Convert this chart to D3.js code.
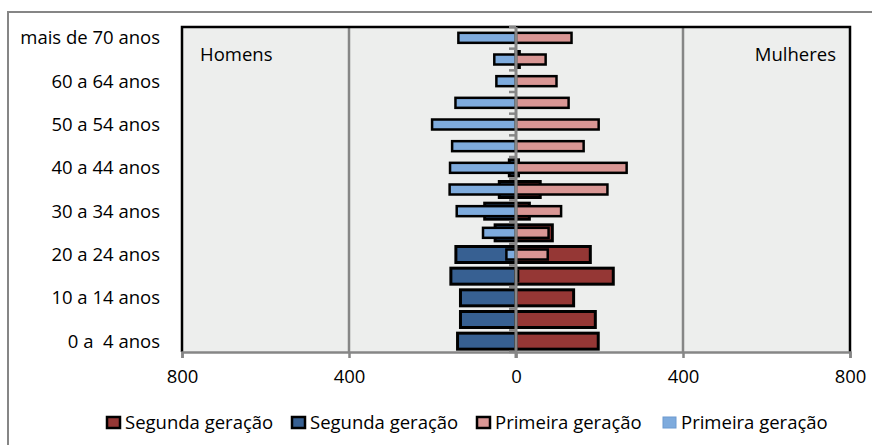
<!DOCTYPE html>
<html><head><meta charset="utf-8">
<script src="https://cdn.jsdelivr.net/npm/d3@7"></script>
<style>
html,body{margin:0;padding:0;background:#fff;}
text{font-family:"Open Sans","Noto Sans",sans-serif;fill:#000;}
</style></head>
<body><svg id="c" width="872" height="445"></svg>
<script>
const categories = ["0 a  4 anos","5 a 9 anos","10 a 14 anos","15 a 19 anos","20 a 24 anos","25 a 29 anos","30 a 34 anos","35 a 39 anos","40 a 44 anos","45 a 49 anos","50 a 54 anos","55 a 59 anos","60 a 64 anos","65 a 69 anos","mais de 70 anos"];
const shownLabels = ["0 a  4 anos","10 a 14 anos","20 a 24 anos","30 a 34 anos","40 a 44 anos","50 a 54 anos","60 a 64 anos","mais de 70 anos"];
// Segunda geração
const segMulheres = [197,190,138,233,178,87,32,58,6,0,0,0,0,8,0];
const segHomens   = [140,133,133,156,144,50,75,40,16,0,0,0,0,0,0];
// Primeira geração
const priMulheres = [0,0,0,5,76,78,108,219,265,162,198,126,97,71,133];
const priHomens   = [0,0,0,0,23,79,142,159,158,153,201,145,47,52,138];
const xTicks = [-800,-400,0,400,800];
const legendLabels = ["Segunda geração","Segunda geração","Primeira geração","Primeira geração"];
const colors = {segM:"#953735", segH:"#376092", priM:"#D99694", priH:"#7EABDD"};

const svg = d3.select("#c");
const L=182, R=850, T=27, B=352;
const FS = 18.5;
const x = d3.scaleLinear().domain([-800,800]).range([L,R]);
const y = d3.scaleBand().domain(categories.slice().reverse()).range([T,B]).paddingInner(0);
const bw = y.bandwidth();

// outer chart border
svg.append("rect").attr("x",8).attr("y",12).attr("width",900).attr("height",500)
  .attr("fill","#fff").attr("stroke","#868686").attr("stroke-width",2);

// plot background
svg.append("rect").attr("x",L).attr("y",T).attr("width",R-L).attr("height",B-T).attr("fill","#EDEEED");

// gridlines
svg.append("g").selectAll("line").data([-400,400]).join("line")
  .attr("x1",d=>x(d)).attr("x2",d=>x(d)).attr("y1",T).attr("y2",B)
  .attr("stroke","#868686").attr("stroke-width",2.5);

function bars(vals, sign, color, h, sw){
  svg.append("g").selectAll("rect").data(categories.map((c,i)=>({c,v:vals[i]})).filter(d=>d.v>0)).join("rect")
    .attr("x",d=> sign<0 ? x(-d.v) : x(0))
    .attr("width",d=> Math.abs(x(d.v)-x(0)))
    .attr("y",d=> y(d.c)+bw/2-h/2).attr("height",h)
    .attr("fill",color).attr("stroke","#000").attr("stroke-width",sw);
}
bars(segHomens,-1,colors.segH,16,3);
bars(segMulheres,1,colors.segM,16,3);
bars(priHomens,-1,colors.priH,10,2.5);
bars(priMulheres,1,colors.priM,10,2.5);

// plot border (top, left, right black)
svg.append("path").attr("d",`M${L},${B} L${L},${T} L${R},${T} L${R},${B}`)
  .attr("fill","none").attr("stroke","#000").attr("stroke-width",2.5);

// x axis
const xAxis = d3.axisBottom(x).tickValues(xTicks).tickFormat(d=>Math.abs(d)).tickSize(6).tickPadding(12);
const gx = svg.append("g").attr("transform",`translate(0,${B})`).call(xAxis);
gx.select(".domain").attr("stroke","#868686").attr("stroke-width",2.5);
gx.selectAll(".tick line").attr("stroke","#868686").attr("stroke-width",2.5);
gx.selectAll(".tick text").attr("font-size",FS).attr("font-family","Open Sans").attr("fill","#000");

// center category axis
svg.append("line").attr("x1",x(0)).attr("x2",x(0)).attr("y1",T).attr("y2",B+6)
  .attr("stroke","#868686").attr("stroke-width",3);
const bounds = categories.map(c=>y(c)).concat([B]);
svg.append("g").selectAll("line").data(bounds).join("line")
  .attr("x1",x(0)-7).attr("x2",x(0)).attr("y1",d=>d).attr("y2",d=>d)
  .attr("stroke","#868686").attr("stroke-width",2.5);

// category labels
svg.append("g").selectAll("text").data(shownLabels).join("text")
  .attr("x",160).attr("y",d=>y(d)+bw/2).attr("dy","0.35em")
  .attr("text-anchor","end").attr("font-size",FS).style("white-space","pre")
  .text(d=>d);

svg.append("text").attr("x",200).attr("y",55).attr("dy","0.35em").attr("font-size",FS).text("Homens");
svg.append("text").attr("x",836).attr("y",55).attr("dy","0.35em").attr("text-anchor","end").attr("font-size",FS).text("Mulheres");

// legend
const legColors = [colors.segM,colors.segH,colors.priM,colors.priH];
const legX = [107,292,477,663];
const lg = svg.append("g");
legendLabels.forEach((t,i)=>{
  lg.append("rect").attr("x",legX[i]).attr("y",417).attr("width",13).attr("height",11)
    .attr("fill",legColors[i]).attr("stroke",i===3?"#6d9ad0":"#000").attr("stroke-width",i===3?1:2.5);
  lg.append("text").attr("x",legX[i]+18).attr("y",423).attr("dy","0.35em").attr("font-size",FS).text(t);
});
</script></body></html>
